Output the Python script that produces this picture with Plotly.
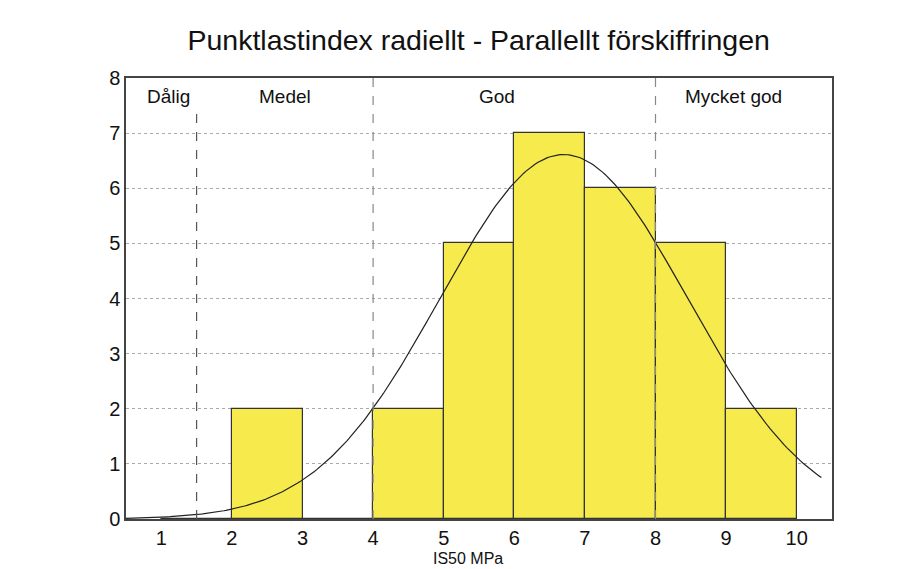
import numpy as np
import plotly.graph_objects as go

# histogram bins (left edges) and counts
bin_left = [1, 2, 3, 4, 5, 6, 7, 8, 9]
counts = [0, 2, 0, 2, 5, 7, 6, 5, 2]

# fitted normal curve parameters
fit_mean = 6.7
fit_sd = 1.75
fit_range = [0.5, 10.35]

# class boundaries and labels
class_bounds = [1.5, 4, 8]
class_labels = ["Dålig", "Medel", "God", "Mycket god"]
class_label_x = [1.1, 2.75, 5.75, 9.1]

x_ticks = list(range(1, 11))
y_ticks = list(range(0, 9))

n_total = sum(counts)
xc = np.linspace(fit_range[0], fit_range[1], 300)
yc = n_total / (fit_sd * np.sqrt(2 * np.pi)) * np.exp(-0.5 * ((xc - fit_mean) / fit_sd) ** 2)

fig = go.Figure()

fig.add_trace(go.Bar(
    x=[b + 0.5 for b in bin_left], y=counts, width=1,
    marker=dict(color="#F6EA4C", line=dict(color="#333333", width=1.2)),
    showlegend=False,
))

fig.add_trace(go.Scatter(
    x=xc, y=yc, mode="lines",
    line=dict(color="#222222", width=1.2), showlegend=False,
))

# dashed class boundaries
for i, xb in enumerate(class_bounds):
    fig.add_shape(type="line", x0=xb, x1=xb, y0=0, y1=7.35 if i == 0 else 8,
                  line=dict(color="#555555" if i == 0 else "#888888", width=1.2, dash="dash"))

for lab, lx in zip(class_labels, class_label_x):
    fig.add_annotation(x=lx, y=7.66, text=lab, showarrow=False,
                       font=dict(size=19, color="#111111"))

fig.add_annotation(x=5.35, y=-0.113, yref="paper", yanchor="bottom",
                   text="IS50 MPa", showarrow=False, font=dict(size=16, color="#111111"))

fig.update_xaxes(range=[0.5, 10.5], tickvals=x_ticks, ticks="", showgrid=False,
                 zeroline=False, showline=True, linecolor="#444444", linewidth=1.5,
                 mirror=True, tickfont=dict(size=20, color="#111111"))
fig.update_yaxes(range=[0, 8], tickvals=y_ticks, ticks="", showgrid=True,
                 gridcolor="#aaaaaa", griddash="dot", gridwidth=1,
                 zeroline=False, showline=True, linecolor="#444444", linewidth=1.5,
                 mirror=True, tickfont=dict(size=20, color="#111111"))

fig.update_layout(
    width=914, height=569,
    margin=dict(l=118, r=90, t=70, b=58),
    title=dict(text="Punktlastindex radiellt - Parallellt förskiffringen",
               x=0.515, xanchor="center", y=0.944, yanchor="middle",
               font=dict(size=28.5, color="#111111")),
    font=dict(family="Liberation Sans, Arial, sans-serif"),
    plot_bgcolor="white", paper_bgcolor="white",
    bargap=0,
)

fig.write_html("out.html")
